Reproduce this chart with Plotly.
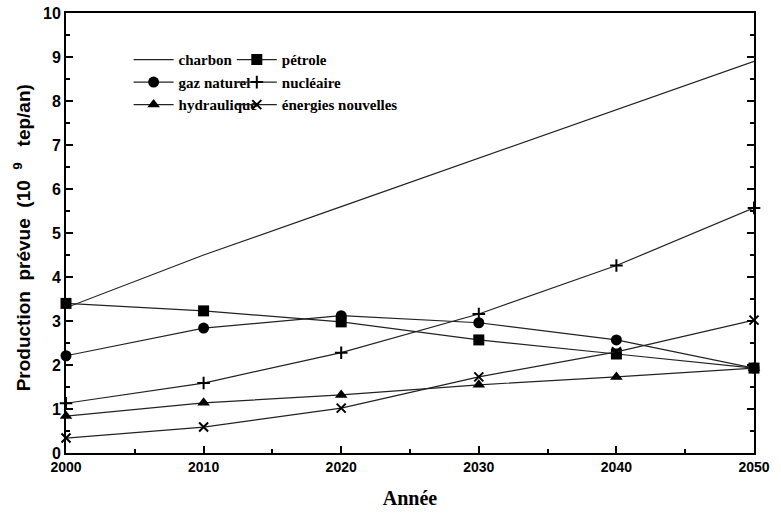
import plotly.graph_objects as go

years = [2000, 2010, 2020, 2030, 2040, 2050]
charbon = [3.3, 4.5, 5.6, 6.7, 7.8, 8.9]
petrole = [3.4, 3.23, 2.98, 2.57, 2.25, 1.93]
gaz_naturel = [2.21, 2.84, 3.12, 2.96, 2.57, 1.93]
nucleaire = [1.13, 1.59, 2.28, 3.16, 4.26, 5.57]
hydraulique = [0.84, 1.14, 1.32, 1.55, 1.73, 1.93]
energies_nouvelles = [0.34, 0.59, 1.02, 1.73, 2.3, 3.02]

series = [
    ("charbon", charbon, None, "legend"),
    ("gaz naturel", gaz_naturel, "circle", "legend"),
    ("hydraulique", hydraulique, "triangle-up", "legend"),
    ("pétrole", petrole, "square", "legend2"),
    ("nucléaire", nucleaire, "cross-thin", "legend2"),
    ("énergies nouvelles", energies_nouvelles, "x-thin", "legend2"),
]

fig = go.Figure()
for name, vals, sym, lg in series:
    if sym is None:
        fig.add_trace(go.Scatter(x=years, y=vals, name=name, mode="lines",
                                 line=dict(color="#222", width=1.2), legend=lg))
    else:
        thin = sym.endswith("thin")
        fig.add_trace(go.Scatter(
            x=years, y=vals, name=name, mode="lines+markers",
            line=dict(color="#222", width=1.2),
            marker=dict(symbol=sym, size=11 if not thin else 9, color="black",
                        line=dict(color="black", width=2 if thin else 0)),
            legend=lg, cliponaxis=False))

legend_font = dict(family="Liberation Serif", size=15, color="black", weight="bold")
fig.update_layout(
    width=781, height=513,
    margin=dict(l=66, r=27, t=13, b=60),
    plot_bgcolor="white", paper_bgcolor="white",
    showlegend=True,
    legend=dict(x=0.091, y=0.931, xanchor="left", yanchor="top", bgcolor="rgba(0,0,0,0)",
                font=legend_font, tracegroupgap=0, itemwidth=40),
    legend2=dict(x=0.241, y=0.931, xanchor="left", yanchor="top", bgcolor="rgba(0,0,0,0)",
                 font=legend_font, tracegroupgap=0, itemwidth=40),
    xaxis=dict(range=[2000, 2050], tickvals=[2000, 2010, 2020, 2030, 2040, 2050],
               automargin=False,
               ticks="inside", ticklen=7, tickwidth=1.5, tickcolor="black",
               minor=dict(dtick=5, ticks="inside", ticklen=4, tickcolor="black", tickwidth=1.5),
               showline=True, linecolor="black", linewidth=2, mirror=True,
               showgrid=False, zeroline=False,
               tickfont=dict(family="Liberation Sans", size=14, color="black", weight="bold"),
               title=dict(text="<b>Année</b>", font=dict(family="Liberation Serif", size=20, color="black"), standoff=17)),
    yaxis=dict(range=[0, 10], dtick=1, automargin=False,
               ticks="inside", ticklen=7, tickwidth=1.5, tickcolor="black",
               minor=dict(dtick=0.5, ticks="inside", ticklen=4, tickcolor="black", tickwidth=1.5),
               showline=True, linecolor="black", linewidth=2, mirror="ticks",
               showgrid=False, zeroline=False,
               tickfont=dict(family="Liberation Sans", size=16, color="black", weight="bold")),
    annotations=[dict(text="<b>Production  prévue  (10  <sup>9</sup>   tep/an)</b>",
                      xref="paper", yref="paper", x=-0.064, y=0.49,
                      xanchor="center", yanchor="middle", textangle=-90, showarrow=False,
                      font=dict(family="Liberation Sans", size=19, color="black"))],
)

fig.write_html("out.html", config={"displayModeBar": False},
               post_script="document.body.style.margin='0px';")
